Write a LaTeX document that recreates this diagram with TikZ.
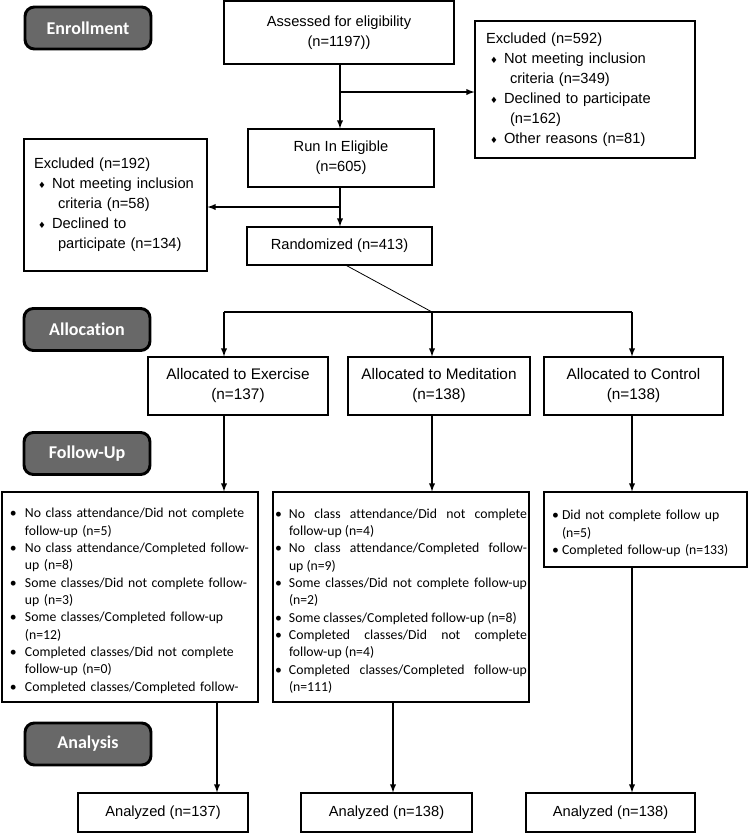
\documentclass[tikz,border=0pt]{standalone}
\usepackage{fontspec}
\setmainfont{Liberation Sans}
\newfontfamily\calib[Ligatures=NoCommon]{Carlito}
\newfontfamily\symf{DejaVu Sans}
\usetikzlibrary{arrows}

\newdimen\pxu \pxu=0.75pt
\definecolor{stagegray}{RGB}{104,104,104}
\newcommand{\dia}{\hspace*{4\pxu}\makebox[14\pxu][l]{\symf\fontsize{6.5}{7}\selectfont ♦}}
\newcommand{\cont}{\hspace*{24\pxu}}
\newlength{\fuhang}
\newcommand{\fustart}[1]{\setlength{\fuhang}{#1\pxu}\hyphenpenalty=10000\relax}
\newcommand{\fuitem}[1]{\par\hangindent=\fuhang\hangafter=1\noindent\makebox[\fuhang][l]{\textbullet}#1}

\begin{document}
\begin{tikzpicture}[x=0.75pt,y=-0.75pt,>=latex,
  box/.style={draw,line width=0.8pt,align=center,inner sep=0pt,font=\fontsize{11}{15}\selectfont},
  exbox/.style={draw,line width=0.8pt,align=left,inner ysep=0pt,font=\fontsize{11}{15}\selectfont},
  stage/.style={draw,line width=2.2pt,rounded corners=7pt,fill=stagegray,text=white,
    minimum width=126\pxu,minimum height=42\pxu,font=\calib\bfseries\fontsize{13.5}{16}\selectfont},
  list/.style={draw,line width=0.8pt,inner ysep=0pt,font=\calib\fontsize{10.3}{13}\selectfont},
  conn/.style={line width=1.1pt}]

  \useasboundingbox (0,0) rectangle (749,833);

  % stage labels
  \node[stage] (enr) at (88,28) {Enrollment};
  \node[stage] (alc) at (87,329.5) {Allocation};
  \node[stage] (fol) at (87,453.5) {Follow-Up};
  \node[stage] (ana) at (88,744) {Analysis};

  % enrollment
  \node[box,minimum width=230\pxu,minimum height=63\pxu] (assess) at (339,32.5) {Assessed for eligibility\\(n=1197))};
  \node[exbox,text width=198\pxu,inner xsep=11\pxu,minimum height=137\pxu] (exclR) at (585,89.5)
    {Excluded (n=592)\\ \dia Not meeting inclusion\\ \cont criteria (n=349)\\ \dia Declined to participate\\ \cont (n=162)\\ \dia Other reasons (n=81)};
  \node[box,minimum width=186\pxu,minimum height=58\pxu] (runin) at (341,158) {Run In Eligible\\(n=605)};
  \node[exbox,text width=163\pxu,inner xsep=10\pxu,minimum height=132\pxu] (exclL) at (115.5,205)
    {Excluded (n=192)\\ \dia Not meeting inclusion\\ \cont criteria (n=58)\\ \dia Declined to\\ \cont participate (n=134)};
  \node[box,minimum width=185\pxu,minimum height=38\pxu] (rand) at (339.5,246) {Randomized (n=413)};

  % allocation
  \node[box,minimum width=180\pxu,minimum height=58\pxu,font=\fontsize{11.5}{15}\selectfont] (allocEx) at (238,386) {Allocated to Exercise\\(n=137)};
  \node[box,minimum width=182\pxu,minimum height=58\pxu,font=\fontsize{11.5}{15}\selectfont] (allocMed) at (439,386) {Allocated to Meditation\\(n=138)};
  \node[box,minimum width=179\pxu,minimum height=58\pxu,font=\fontsize{11.5}{15}\selectfont] (allocCon) at (633.5,386) {Allocated to Control\\(n=138)};

  % follow-up
  \node[list,align=left,text width=240\pxu,inner xsep=8\pxu,minimum height=210\pxu] (fuEx) at (130,597)
    {\fustart{15}%
     \fuitem{\mbox{No class attendance/Did not complete}\newline follow-up (n=5)}
     \fuitem{\mbox{No class attendance/Completed follow-}\newline up (n=8)}
     \fuitem{\mbox{Some classes/Did not complete follow-}\newline up (n=3)}
     \fuitem{\mbox{Some classes/Completed follow-up}\newline (n=12)}
     \fuitem{\mbox{Completed classes/Did not complete}\newline follow-up (n=0)}
     \fuitem{\mbox{Completed classes/Completed follow-}}\par};
  \node[list,align=justify,text width=252\pxu,inner xsep=2\pxu,minimum height=210\pxu] (fuMed) at (401,597)
    {\fustart{14}\emergencystretch=2em%
     \fuitem{No class attendance/Did not complete\linebreak follow-up (n=4)}
     \fuitem{No class attendance/Completed follow-\linebreak up (n=9)}
     \fuitem{Some classes/Did not complete follow-up\linebreak (n=2)}
     \fuitem{Some classes/Completed follow-up (n=8)}
     \fuitem{Completed classes/Did not complete\linebreak follow-up (n=4)}
     \fuitem{Completed classes/Completed follow-up\linebreak (n=111)}\par};
  \node[list,align=left,text width=187\pxu,inner xsep=8\pxu,minimum height=75\pxu] (fuCon) at (645.5,529.5)
    {\fustart{10}%
     \fuitem{Did not complete follow up\newline (n=5)}
     \fuitem{Completed follow-up (n=133)}\par};

  % analysis
  \node[box,minimum width=170\pxu,minimum height=39\pxu] (anaEx) at (163,812.5) {Analyzed (n=137)};
  \node[box,minimum width=171\pxu,minimum height=39\pxu] (anaMed) at (386.5,812.5) {Analyzed (n=138)};
  \node[box,minimum width=169\pxu,minimum height=39\pxu] (anaCon) at (610.5,812.5) {Analyzed (n=138)};

  \coordinate (s1) at (340,92);
  \coordinate (s2) at (340,207);
  \coordinate (split) at (432,312);
  \coordinate (barL) at (224,312);
  \coordinate (barR) at (632,312);
  \coordinate (dL) at (217,702);
  \coordinate (dM) at (393,702);
  \coordinate (dR) at (632,567);

  \draw[conn,->] (assess.south -| s1) -- (s1 |- runin.north);
  \draw[conn,->] (s1) -- (s1 -| exclR.west);
  \draw[conn,->] (runin.south -| s2) -- (s2 |- rand.north);
  \draw[conn,->] (s2) -- (s2 -| exclL.east);
  \draw[line width=0.6pt] ([xshift=7\pxu]rand.south) -- (split);
  \draw[conn] (barL) -- (barR);
  \draw[conn,->] (barL) -- (barL |- allocEx.north);
  \draw[conn,->] (split) -- (split |- allocMed.north);
  \draw[conn,->] (barR) -- (barR |- allocCon.north);
  \draw[conn,->] (barL |- allocEx.south) -- (barL |- fuEx.north);
  \draw[conn,->] (split |- allocMed.south) -- (split |- fuMed.north);
  \draw[conn,->] (barR |- allocCon.south) -- (barR |- fuCon.north);
  \draw[conn,->] (dL) -- (dL |- anaEx.north);
  \draw[conn,->] (dM) -- (dM |- anaMed.north);
  \draw[conn,->] (dR) -- (dR |- anaCon.north);
\end{tikzpicture}
\end{document}
